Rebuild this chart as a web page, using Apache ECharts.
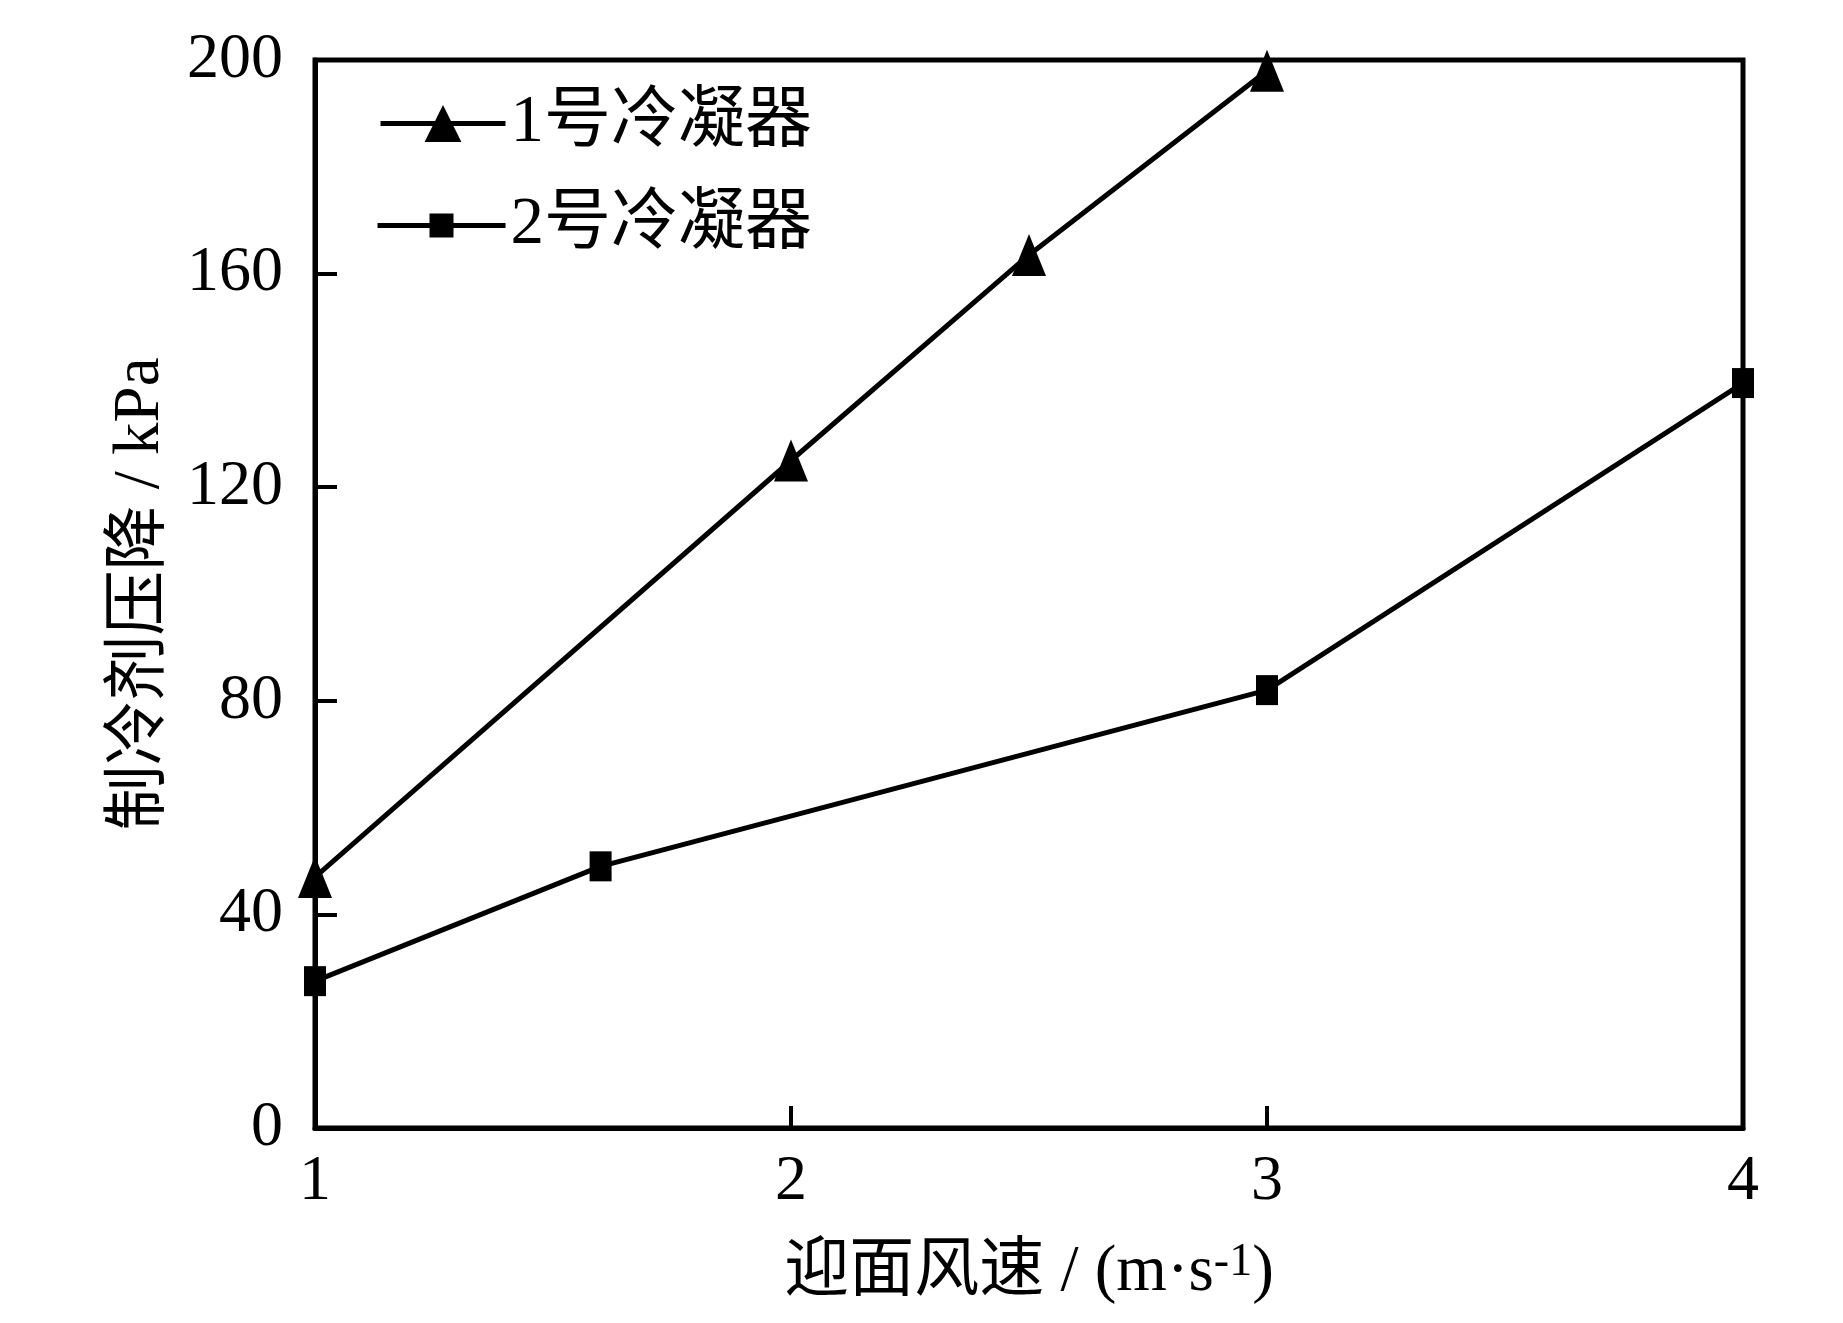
<!DOCTYPE html>
<html>
<head>
<meta charset="utf-8">
<script src="https://cdn.jsdelivr.net/npm/echarts@6/dist/echarts.min.js"></script>
<style>
  html, body { margin: 0; padding: 0; background: #fff; }
  #chart { width: 1843px; height: 1323px; }
</style>
</head>
<body>
<div id="chart"></div>
<script>
// 数据
const seriesNames = ['1号冷凝器', '2号冷凝器'];
const speed1 = [1, 2, 2.5, 3];
const drop1 = [47, 125, 163.5, 198];
const speed2 = [1, 1.6, 3, 4];
const drop2 = [27.5, 49, 82, 139.5];
const xTicks = [1, 2, 3, 4];
const yTicks = [0, 40, 80, 120, 160, 200];

const font = '"Liberation Serif", "Noto Sans CJK SC", serif';

function pairs (xs, ys) {
    return xs.map((x, i) => [x, ys[i]]);
}

const chart = echarts.init(document.getElementById('chart'));

const legendText = {
    fontFamily: font,
    fontSize: 67,
    lineHeight: 67,
    color: '#000'
};

chart.setOption({
    animation: false,
    backgroundColor: '#fff',
    grid: {
        left: 315,
        right: 100,
        top: 60,
        bottom: 195,
        show: true,
        borderColor: '#000',
        borderWidth: 5,
        backgroundColor: 'transparent'
    },
    legend: [
        {
            data: [seriesNames[0]],
            left: 378,
            top: 90,
            padding: 0,
            itemWidth: 125,
            itemHeight: 46,
            selectedMode: false,
            lineStyle: { color: '#000', width: 5 },
            textStyle: legendText
        },
        {
            data: [seriesNames[1]],
            left: 375,
            top: 192,
            padding: 0,
            itemWidth: 128,
            itemHeight: 30,
            selectedMode: false,
            lineStyle: { color: '#000', width: 5 },
            textStyle: legendText
        }
    ],
    xAxis: {
        type: 'value',
        min: xTicks[0],
        max: xTicks[xTicks.length - 1],
        interval: 1,
        name: '迎面风速 / (m·s{sup|-1})',
        nameLocation: 'middle',
        nameGap: 112,
        nameTextStyle: {
            fontFamily: font,
            fontSize: 65,
            color: '#000',
            rich: {
                sup: {
                    fontFamily: font,
                    fontSize: 46,
                    verticalAlign: 'top',
                    color: '#000'
                }
            }
        },
        axisLine: { show: true, lineStyle: { color: '#000', width: 5 } },
        axisTick: { show: true, inside: true, length: 22, lineStyle: { color: '#000', width: 4 } },
        axisLabel: {
            margin: 22,
            fontFamily: font,
            fontSize: 64,
            color: '#000'
        },
        splitLine: { show: false }
    },
    yAxis: {
        type: 'value',
        min: yTicks[0],
        max: yTicks[yTicks.length - 1],
        interval: 40,
        name: '制冷剂压降 / kPa',
        nameLocation: 'middle',
        nameRotate: 90,
        nameGap: 142,
        nameTextStyle: {
            fontFamily: font,
            fontSize: 65,
            color: '#000'
        },
        axisLine: { show: true, lineStyle: { color: '#000', width: 5 } },
        axisTick: { show: true, inside: true, length: 22, lineStyle: { color: '#000', width: 4 } },
        axisLabel: {
            margin: 32,
            fontFamily: font,
            fontSize: 64,
            color: '#000',
            padding: [0, 0, 14, 0]
        },
        splitLine: { show: false }
    },
    series: [
        {
            name: seriesNames[0],
            type: 'line',
            data: pairs(speed1, drop1),
            symbol: 'triangle',
            symbolSize: [34, 42],
            clip: false,
            lineStyle: { color: '#000', width: 5 },
            itemStyle: { color: '#000' }
        },
        {
            name: seriesNames[1],
            type: 'line',
            data: pairs(speed2, drop2),
            symbol: 'rect',
            symbolSize: [22, 30],
            clip: false,
            lineStyle: { color: '#000', width: 5 },
            itemStyle: { color: '#000' }
        }
    ]
});
</script>
</body>
</html>
